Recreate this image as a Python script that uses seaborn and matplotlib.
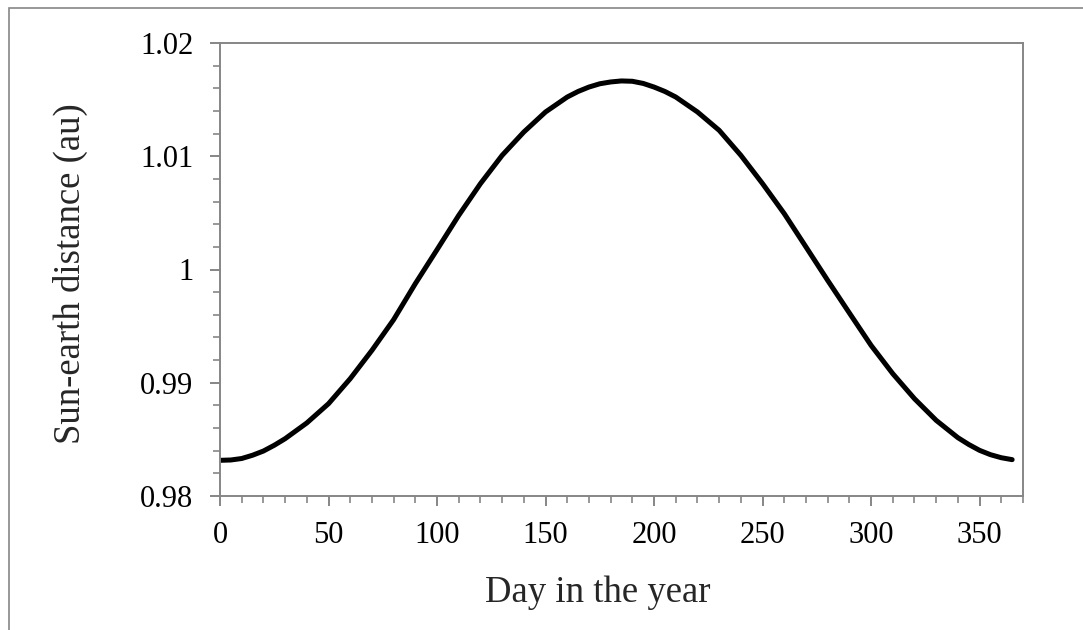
import pandas as pd
import matplotlib.pyplot as plt
import seaborn as sns
from matplotlib.ticker import MultipleLocator, FuncFormatter
from matplotlib.patches import Rectangle

# values
days = [0, 5, 10, 15, 20, 25, 30, 40, 50, 60, 70, 80, 90, 100, 110, 120, 130,
        140, 150, 160, 165, 170, 175, 180, 185, 190, 195, 200, 205, 210, 220,
        230, 240, 250, 260, 270, 280, 290, 300, 310, 320, 330, 340, 345, 350,
        355, 360, 365]
distance = [0.98315, 0.98318, 0.98331, 0.98360, 0.98397, 0.98448, 0.98506,
            0.98645, 0.98815, 0.99036, 0.99286, 0.99557, 0.99875, 1.00175,
            1.00478, 1.00758, 1.01008, 1.01214, 1.01391, 1.01523, 1.01572,
            1.01611, 1.01640, 1.01656, 1.01665, 1.01662, 1.01643, 1.01611,
            1.01572, 1.01523, 1.01391, 1.01229, 1.01008, 1.00758, 1.00493,
            1.00199, 0.99904, 0.99616, 0.99330, 0.99080, 0.98859, 0.98668,
            0.98515, 0.98455, 0.98403, 0.98365, 0.98338, 0.98321]
x_ticks = [0, 50, 100, 150, 200, 250, 300, 350]
y_ticks = [0.98, 0.99, 1.00, 1.01, 1.02]

df = pd.DataFrame({"day": days, "dist": distance})

sns.set_theme(style="white")
plt.rcParams['font.family'] = ['Liberation Serif', 'DejaVu Serif']

grey = "#868686"
fig = plt.figure(figsize=(10.83, 6.3), dpi=100)
ax = fig.add_axes([220 / 1083, 1 - 496 / 630, 803 / 1083, 453 / 630])

sns.lineplot(data=df, x="day", y="dist", color="black", linewidth=3.6, ax=ax)
ax.lines[0].set_solid_capstyle("round")
ax.lines[0].set_solid_joinstyle("round")

ax.set_xlim(0, 370)
ax.set_ylim(0.98, 1.02)
ax.set_xticks(x_ticks)
ax.set_yticks(y_ticks)
ax.xaxis.set_minor_locator(MultipleLocator(10))
ax.yaxis.set_minor_locator(MultipleLocator(0.002))
ax.yaxis.set_major_formatter(FuncFormatter(lambda v, p: f"{v:g}"))

for s in ax.spines.values():
    s.set_color(grey)
    s.set_linewidth(1.4)
ax.tick_params(which="major", direction="out", length=7, width=1.4, color=grey,
               labelsize=22, labelcolor="black", bottom=True, left=True)
ax.tick_params(which="minor", direction="out", length=5, width=1.2, color=grey,
               bottom=True, left=True)
ax.tick_params(axis="y", which="major", pad=12)
ax.tick_params(axis="x", which="major", pad=11)

ax.set_xlabel("Day in the year", fontsize=26.5)
ax.set_ylabel("Sun-earth distance (au)", fontsize=26.5)
ax.xaxis.set_label_coords(0.47, -0.175)
ax.yaxis.set_label_coords(-0.165, 0.49)

# outer chart border (left and top visible)
fig.patches.append(Rectangle((9 / 1083, -0.05), 1.1, 1 - 8 / 630 + 0.05,
                             transform=fig.transFigure, fill=False,
                             edgecolor=grey, linewidth=1.2))

fig.savefig("out.png", dpi=100)
